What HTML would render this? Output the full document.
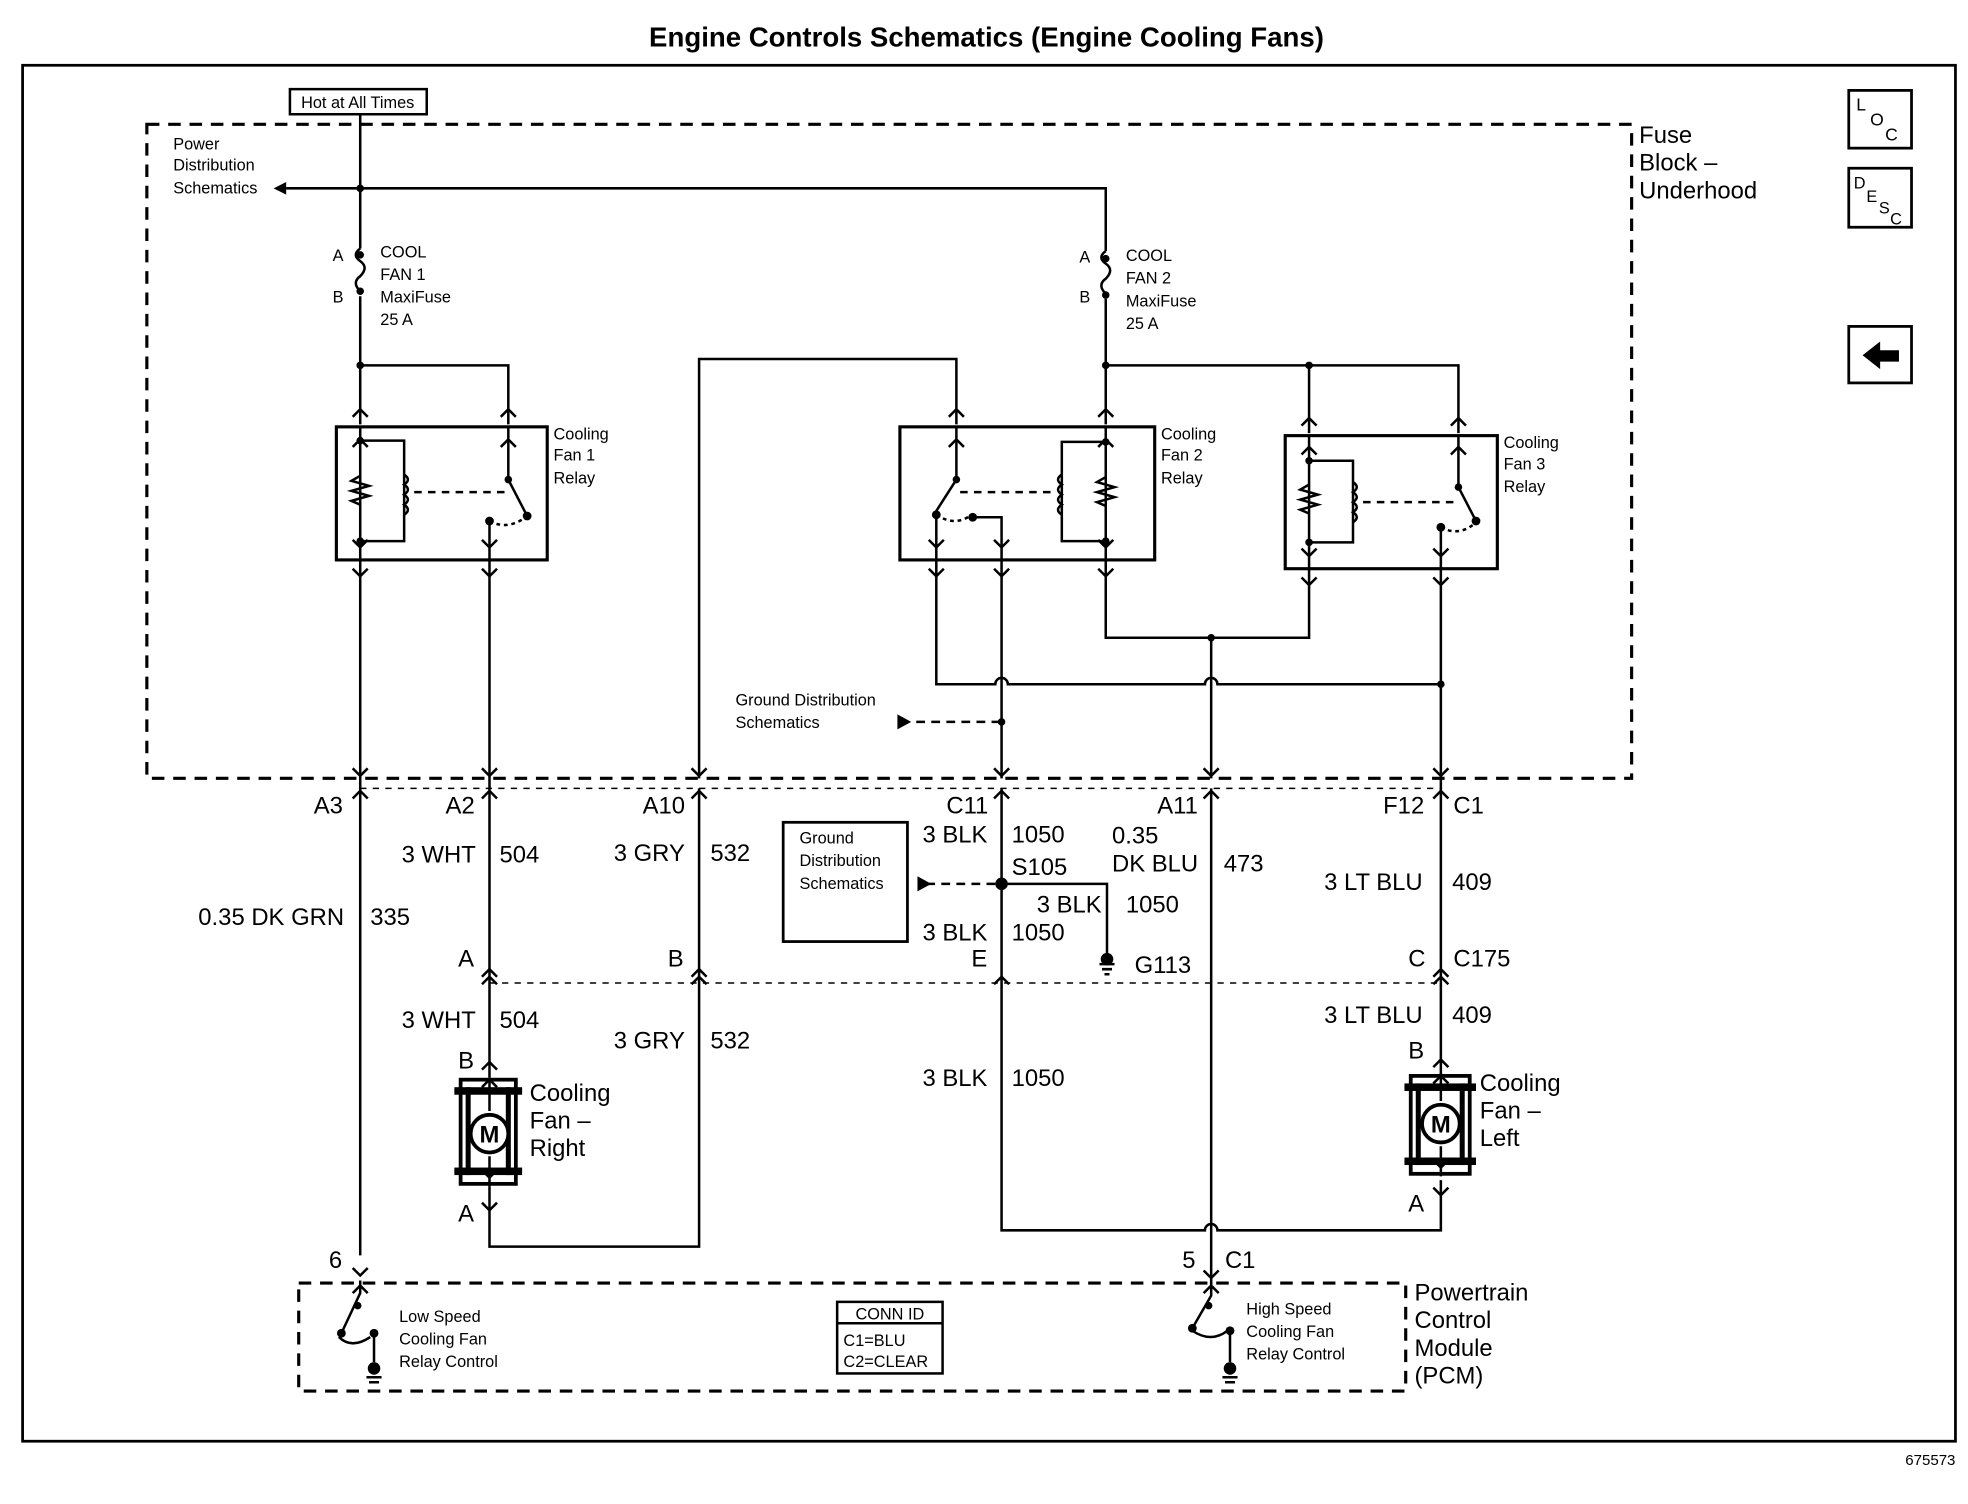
<!DOCTYPE html>
<html><head><meta charset="utf-8"><style>
html,body{margin:0;padding:0;background:#fff;}
svg{display:block;}
text{font-family:"Liberation Sans",Arial,sans-serif;fill:#000;}
.s{font-size:13px;}
.m{font-size:19px;}
.b{font-weight:bold;}
</style></head><body>
<svg width="1968" height="1504" viewBox="0 0 1568 1198" preserveAspectRatio="none" xmlns="http://www.w3.org/2000/svg" stroke-linecap="butt">
<rect width="1568" height="1198" fill="#fff"/>
<text x="786" y="37" class="b" font-size="22" text-anchor="middle">Engine Controls Schematics (Engine Cooling Fans)</text>
<rect x="18" y="52" width="1540" height="1096" fill="none" stroke="#000" stroke-width="2.2"/>
<text x="1558" y="1167" font-size="12" text-anchor="end">675573</text>

<g fill="none" stroke="#000" stroke-width="2.2">
<rect x="1473" y="72" width="50" height="46"/><rect x="1473" y="134" width="50" height="47"/><rect x="1473" y="260" width="50" height="45"/>
</g>
<text x="1479" y="88" font-size="14">L</text><text x="1490" y="100" font-size="14">O</text><text x="1502" y="112" font-size="14">C</text>
<text x="1477" y="150" font-size="13">D</text><text x="1487" y="161" font-size="13">E</text><text x="1497" y="170" font-size="13">S</text><text x="1506" y="179" font-size="13">C</text>
<polygon points="1484,283 1498,272 1498,279 1513,279 1513,288 1498,288 1498,294" fill="#000"/>

<rect x="117" y="99" width="1183" height="521" fill="none" stroke="#000" stroke-width="2.5" stroke-dasharray="10,7"/>
<text x="1306" y="114" class="m">Fuse</text><text x="1306" y="136" class="m">Block –</text><text x="1306" y="158" class="m">Underhood</text>

<rect x="231" y="71" width="109" height="20" fill="none" stroke="#000" stroke-width="2"/>
<text x="285" y="86" class="s" text-anchor="middle">Hot at All Times</text>
<text x="138" y="119" class="s">Power</text><text x="138" y="136" class="s">Distribution</text><text x="138" y="154" class="s">Schematics</text>

<g fill="none" stroke="#000" stroke-width="2">
<path d="M287 91 V198 M287 236 V338 M228 150 H881 V200 M881 238 V338"/>
<path d="M287 291 H405 V338"/>
<path d="M881 291 H1162 V345 M1043 291 V345"/>
<path d="M557 620 V286 H762 V338"/>
<path d="M287 198 q-7 5 0 10 q7 5 0 12 q-7 5 0 12"/>
<path d="M881 200 q-7 5 0 10 q7 5 0 12 q-7 5 0 12"/>
<rect x="268" y="340" width="168" height="106" stroke-width="2.5"/>
<rect x="717" y="340" width="203" height="106" stroke-width="2.5"/>
<rect x="1024" y="347" width="169" height="106" stroke-width="2.5"/>
<path d="M287 340 V446 M287 351 H322 V431 H287 M405 340 V382 L420 411 M390 446 V415"/>
<path d="M287 379 l-7 4 l14 4 l-14 4 l14 4 l-14 4 l7 3"/>
<path d="M322 378 q6 4 0 8 q6 4 0 8 q6 4 0 8 q6 4 0 8"/>
<path d="M330 392 H405" stroke-dasharray="6,5"/>
<path d="M390 415 q15 8 30 -4" stroke-dasharray="3,3"/>
<path d="M762 340 V382 L746 407 V446 M775 412 H798 V446 M881 340 V446 M881 352 H846 V431 H881"/>
<path d="M881 380 l-7 4 l14 4 l-14 4 l14 4 l-14 4 l7 3"/>
<path d="M846 378 q-6 4 0 8 q-6 4 0 8 q-6 4 0 8 q-6 4 0 8"/>
<path d="M765 392 H840" stroke-dasharray="6,5"/>
<path d="M746 410 q15 10 28 0" stroke-dasharray="3,3"/>
<path d="M1043 347 V453 M1043 367 H1078 V432 H1043 M1162 347 V388 L1176 415 M1148 453 V418"/>
<path d="M1043 386 l-7 4 l14 4 l-14 4 l14 4 l-14 4 l7 3"/>
<path d="M1078 384 q6 4 0 8 q6 4 0 8 q6 4 0 8 q6 4 0 8"/>
<path d="M1086 400 H1160" stroke-dasharray="6,5"/>
<path d="M1148 420 q15 8 28 -4" stroke-dasharray="3,3"/>
<path d="M287 446 V1000 M390 446 V858 M746 446 V545 H793 a5 5 0 0 1 10 0 H960 a5 5 0 0 1 10 0 H1148"/>
<path d="M798 446 V620 M881 446 V508 H1043 V453 M965 508 V620 M1148 453 V858"/>
<path d="M730 575 H798" stroke-dasharray="7,5"/>
<path d="M798 628 V980 H960 a5 5 0 0 1 10 0 H1148 V940 M965 628 V1020 M390 945 V993 H557 V628"/>
<path d="M798 704 H882 V760" />
<path d="M738 704 H798" stroke-dasharray="7,5"/>
<path d="M287 628 H1148" stroke-dasharray="5,5" stroke-width="1.2"/>
<path d="M390 783 H1148" stroke-dasharray="5,5" stroke-width="1.2"/>
<path d="M281 332 l6 -6 l6 6 M399 332 l6 -6 l6 6 M756 332 l6 -6 l6 6 M875 332 l6 -6 l6 6 M1037 339 l6 -6 l6 6 M1156 339 l6 -6 l6 6"/>
<path d="M281 453 l6 6 l6 -6 M384 453 l6 6 l6 -6 M740 453 l6 6 l6 -6 M792 453 l6 6 l6 -6 M875 453 l6 6 l6 -6 M1037 460 l6 6 l6 -6 M1142 460 l6 6 l6 -6"/>
<path d="M281 356 l6 -6 l6 6 M399 356 l6 -6 l6 6 M756 356 l6 -6 l6 6 M875 356 l6 -6 l6 6 M1037 362 l6 -6 l6 6 M1156 362 l6 -6 l6 6"/>
<path d="M281 430 l6 6 l6 -6 M384 430 l6 6 l6 -6 M740 430 l6 6 l6 -6 M792 430 l6 6 l6 -6 M875 430 l6 6 l6 -6 M1037 437 l6 6 l6 -6 M1142 437 l6 6 l6 -6"/>
<path d="M281 612 l6 6 l6 -6 M384 612 l6 6 l6 -6 M551 612 l6 6 l6 -6 M792 612 l6 6 l6 -6 M959 612 l6 6 l6 -6 M1142 612 l6 6 l6 -6"/>
<path d="M281 636 l6 -6 l6 6 M384 636 l6 -6 l6 6 M551 636 l6 -6 l6 6 M792 636 l6 -6 l6 6 M959 636 l6 -6 l6 6 M1142 636 l6 -6 l6 6"/>
<path d="M384 778 l6 -6 l6 6 M551 778 l6 -6 l6 6 M1142 778 l6 -6 l6 6 M384 784 l6 -6 l6 6 M551 784 l6 -6 l6 6 M792 784 l6 -6 l6 6 M1142 784 l6 -6 l6 6"/>
<path d="M384 958 l6 6 l6 -6 M1142 946 l6 6 l6 -6 M281 1010 l6 6 l6 -6 M959 1012 l6 6 l6 -6"/>
<path d="M384 852 l6 -6 l6 6 M1142 850 l6 -6 l6 6"/>
<path d="M876 768 H888 M878 772 H886 M880 776 H884"/>
<rect x="624" y="655" width="99" height="95" stroke-width="2.2"/>
<rect x="238" y="1022" width="882" height="86" stroke-width="2.5" stroke-dasharray="10,7"/>
<rect x="667" y="1037" width="84" height="57" stroke-width="2"/>
<path d="M667 1054 H751"/>
<path d="M287 1020 V1030 L272 1062 M298 1062 V1085 M270 1065 q10 10 25 0" />
<path d="M965 1020 V1032 L950 1058 M980 1060 V1085 M950 1060 q15 10 28 0"/>
<path d="M281 1030 l6 -6 l6 6 M959 1030 l6 -6 l6 6"/>
<path d="M292 1097 H304 M294 1101 H302 M974 1097 H986 M976 1101 H984"/>
</g>
<!-- motors -->
<g stroke="#000" fill="#fff">
<rect x="367" y="860" width="44" height="83" stroke-width="3"/>
<rect x="1124" y="857" width="47" height="78" stroke-width="3"/>
</g>
<g fill="#000">
<rect x="362" y="866" width="54" height="6"/><rect x="362" y="930" width="54" height="6"/>
<rect x="1119" y="863" width="57" height="6"/><rect x="1119" y="922" width="57" height="6"/>
<rect x="371" y="866" width="4" height="70"/><rect x="403" y="866" width="4" height="70"/>
<rect x="1128" y="863" width="4" height="65"/><rect x="1163" y="863" width="4" height="65"/>
</g>
<g stroke="#000" stroke-width="2" fill="none">
<path d="M390 858 V885 M390 921 V945 M1148 855 V877 M1148 913 V937"/>
<path d="M384 866 l6 -6 l6 6 M384 932 l6 6 l6 -6 M1142 863 l6 -6 l6 6 M1142 924 l6 6 l6 -6"/>
</g>
<circle cx="390" cy="903" r="15" fill="#fff" stroke="#000" stroke-width="3"/>
<circle cx="1148" cy="895" r="15" fill="#fff" stroke="#000" stroke-width="3"/>
<text x="390" y="910" font-size="19" class="b" text-anchor="middle">M</text>
<text x="1148" y="902" font-size="19" class="b" text-anchor="middle">M</text>
<g fill="#000">
<circle cx="287" cy="150" r="3"/><circle cx="287" cy="291" r="3"/><circle cx="881" cy="291" r="3"/><circle cx="1043" cy="291" r="3"/>
<circle cx="287" cy="203" r="3"/><circle cx="287" cy="232" r="3"/><circle cx="881" cy="206" r="3"/><circle cx="881" cy="235" r="3"/>
<circle cx="287" cy="351" r="3"/><circle cx="287" cy="431" r="3"/><circle cx="405" cy="382" r="3"/><circle cx="420" cy="411" r="3.5"/><circle cx="390" cy="415" r="3.5"/>
<circle cx="762" cy="382" r="3"/><circle cx="746" cy="410" r="3.5"/><circle cx="775" cy="412" r="3.5"/><circle cx="881" cy="352" r="3"/><circle cx="881" cy="431" r="3"/>
<circle cx="1043" cy="367" r="3"/><circle cx="1043" cy="432" r="3"/><circle cx="1162" cy="388" r="3"/><circle cx="1176" cy="415" r="3.5"/><circle cx="1148" cy="420" r="3.5"/>
<circle cx="965" cy="508" r="3"/><circle cx="1148" cy="545" r="3"/><circle cx="798" cy="575" r="3"/>
<circle cx="798" cy="704" r="5"/><circle cx="882" cy="764" r="5"/>
<polygon points="715,569 715,581 726,575"/><polygon points="731,698 731,710 742,704"/>
<polygon points="218,150 228,145 228,155"/>
<circle cx="272" cy="1062" r="3.5"/><circle cx="298" cy="1062" r="3.5"/><circle cx="298" cy="1090" r="5"/>
<circle cx="950" cy="1058" r="3.5"/><circle cx="980" cy="1060" r="3.5"/><circle cx="980" cy="1090" r="5"/>
<circle cx="285" cy="1040" r="3"/><circle cx="963" cy="1040" r="3"/>
</g>

<text x="265" y="208" class="s">A</text><text x="265" y="241" class="s">B</text>
<text x="303" y="205" class="s">COOL</text><text x="303" y="223" class="s">FAN 1</text><text x="303" y="241" class="s">MaxiFuse</text><text x="303" y="259" class="s">25 A</text>
<text x="860" y="209" class="s">A</text><text x="860" y="241" class="s">B</text>
<text x="897" y="208" class="s">COOL</text><text x="897" y="226" class="s">FAN 2</text><text x="897" y="244" class="s">MaxiFuse</text><text x="897" y="262" class="s">25 A</text>
<text x="441" y="350" class="s">Cooling</text><text x="441" y="367" class="s">Fan 1</text><text x="441" y="385" class="s">Relay</text>
<text x="925" y="350" class="s">Cooling</text><text x="925" y="367" class="s">Fan 2</text><text x="925" y="385" class="s">Relay</text>
<text x="1198" y="357" class="s">Cooling</text><text x="1198" y="374" class="s">Fan 3</text><text x="1198" y="392" class="s">Relay</text>
<text x="586" y="562" class="s">Ground Distribution</text><text x="586" y="580" class="s">Schematics</text>
<text x="637" y="672" class="s">Ground</text><text x="637" y="690" class="s">Distribution</text><text x="637" y="708" class="s">Schematics</text>

<g class="m">
<text x="250" y="648" class="m">A3</text><text x="355" y="648" class="m">A2</text><text x="512" y="648" class="m">A10</text>
<text x="754" y="648" class="m">C11</text><text x="922" y="648" class="m">A11</text><text x="1102" y="648" class="m">F12</text><text x="1158" y="648" class="m">C1</text>
<text x="158" y="737" class="m">0.35 DK GRN</text><text x="295" y="737" class="m">335</text>
<text x="320" y="687" class="m">3 WHT</text><text x="398" y="687" class="m">504</text>
<text x="489" y="686" class="m">3 GRY</text><text x="566" y="686" class="m">532</text>
<text x="735" y="671" class="m">3 BLK</text><text x="806" y="671" class="m">1050</text>
<text x="806" y="697" class="m">S105</text>
<text x="826" y="727" class="m">3 BLK</text><text x="897" y="727" class="m">1050</text>
<text x="735" y="749" class="m">3 BLK</text><text x="806" y="749" class="m">1050</text>
<text x="774" y="770" class="m">E</text>
<text x="904" y="775" class="m">G113</text>
<text x="886" y="672" class="m">0.35</text><text x="886" y="694" class="m">DK BLU</text><text x="975" y="694" class="m">473</text>
<text x="1055" y="709" class="m">3 LT BLU</text><text x="1157" y="709" class="m">409</text>
<text x="365" y="770" class="m">A</text><text x="532" y="770" class="m">B</text>
<text x="1122" y="770" class="m">C</text><text x="1158" y="770" class="m">C175</text>
<text x="320" y="819" class="m">3 WHT</text><text x="398" y="819" class="m">504</text>
<text x="489" y="835" class="m">3 GRY</text><text x="566" y="835" class="m">532</text>
<text x="1055" y="815" class="m">3 LT BLU</text><text x="1157" y="815" class="m">409</text>
<text x="735" y="865" class="m">3 BLK</text><text x="806" y="865" class="m">1050</text>
<text x="365" y="851" class="m">B</text><text x="1122" y="843" class="m">B</text>
<text x="422" y="877" class="m">Cooling</text><text x="422" y="899" class="m">Fan –</text><text x="422" y="921" class="m">Right</text>
<text x="1179" y="869" class="m">Cooling</text><text x="1179" y="891" class="m">Fan –</text><text x="1179" y="913" class="m">Left</text>
<text x="365" y="973" class="m">A</text><text x="1122" y="965" class="m">A</text>
<text x="262" y="1010" class="m">6</text><text x="942" y="1010" class="m">5</text><text x="976" y="1010" class="m">C1</text>
<text x="1127" y="1036" class="m">Powertrain</text><text x="1127" y="1058" class="m">Control</text><text x="1127" y="1080" class="m">Module</text><text x="1127" y="1102" class="m">(PCM)</text>
</g>
<text x="318" y="1053" class="s">Low Speed</text><text x="318" y="1071" class="s">Cooling Fan</text><text x="318" y="1089" class="s">Relay Control</text>
<text x="993" y="1047" class="s">High Speed</text><text x="993" y="1065" class="s">Cooling Fan</text><text x="993" y="1083" class="s">Relay Control</text>
<text x="709" y="1051" class="s" text-anchor="middle">CONN ID</text>
<text x="672" y="1072" class="s">C1=BLU</text><text x="672" y="1089" class="s">C2=CLEAR</text>
</svg>
</body></html>
